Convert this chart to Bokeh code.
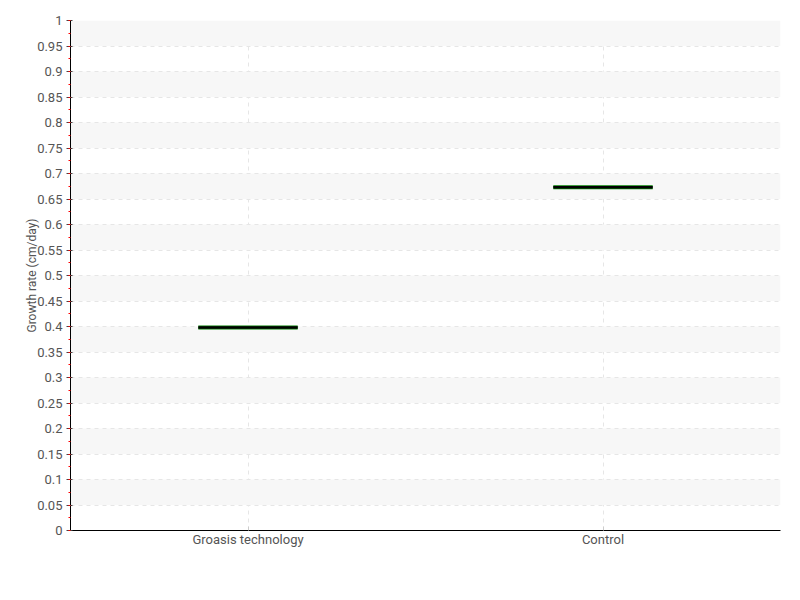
from bokeh.plotting import figure
from bokeh.models import SingleIntervalTicker, ColumnDataSource
from bokeh.embed import file_html
from bokeh.resources import INLINE

categories = ["Groasis technology", "Control"]
growth_rate = [0.398, 0.673]

src = ColumnDataSource(dict(
    x0=[(c, -0.14) for c in categories],
    x1=[(c, 0.14) for c in categories],
    y=growth_rate,
))

p = figure(x_range=categories, y_range=(0, 1), width=790, height=580,
           output_backend="svg", toolbar_location=None,
           min_border_left=70, min_border_right=10, min_border_top=20, min_border_bottom=50)
p.outline_line_color = None
p.background_fill_color = "white"

FONT = "Roboto"
p.yaxis.ticker = SingleIntervalTicker(interval=0.05, num_minor_ticks=2)
p.yaxis.major_label_text_font = FONT
p.xaxis.major_label_text_font = FONT
p.yaxis.major_label_text_font_size = "13px"
p.xaxis.major_label_text_font_size = "13px"
p.yaxis.major_label_text_color = "#555555"
p.xaxis.major_label_text_color = "#555555"
p.yaxis.major_label_standoff = 4
p.yaxis.axis_label = "Growth rate (cm/day)"
p.yaxis.axis_label_text_font = FONT
p.yaxis.axis_label_text_font_style = "normal"
p.yaxis.axis_label_text_font_size = "12px"
p.yaxis.axis_label_text_color = "#555555"
p.yaxis.axis_label_standoff = -5
p.yaxis.axis_line_color = "black"
p.xaxis.axis_line_color = "black"
p.yaxis.major_tick_line_color = "#444444"
p.yaxis.major_tick_in = 2
p.yaxis.major_tick_out = 4
p.yaxis.minor_tick_line_color = "red"
p.yaxis.minor_tick_in = 0
p.yaxis.minor_tick_out = 2
p.xaxis.major_tick_line_color = "#cccccc"
p.xaxis.major_tick_in = 4
p.xaxis.major_tick_out = 0
p.xaxis.major_label_standoff = 1

p.ygrid.ticker = SingleIntervalTicker(interval=0.05)
p.ygrid.grid_line_color = "#e6e6e6"
p.ygrid.grid_line_dash = "4 4"
p.ygrid.band_fill_color = "#f7f7f7"
p.ygrid.band_fill_alpha = 1
p.xgrid.grid_line_color = "#e6e6e6"
p.xgrid.grid_line_dash = "4 4"

p.segment(x0="x0", y0="y", x1="x1", y1="y", source=src, line_color="green", line_width=4)
p.segment(x0="x0", y0="y", x1="x1", y1="y", source=src, line_color="black", line_width=2.5)

open("out.html", "w").write(file_html(p, INLINE))
